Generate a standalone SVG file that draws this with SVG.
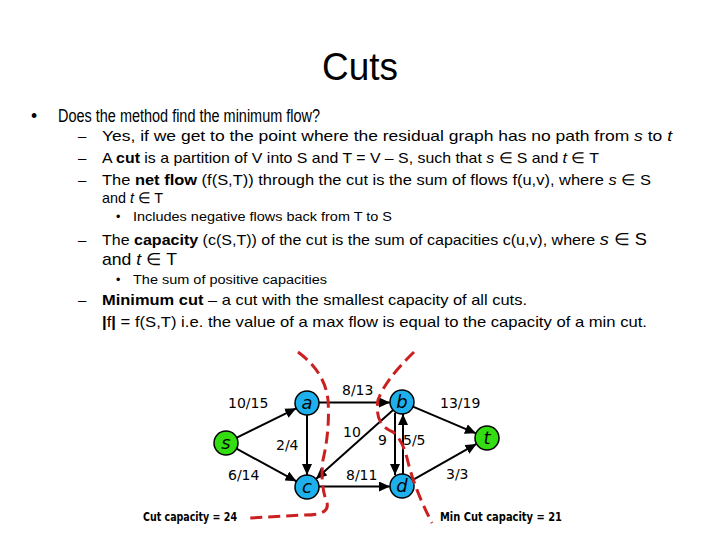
<svg xmlns="http://www.w3.org/2000/svg" width="720" height="540" viewBox="0 0 720 540">
<defs>
<style>
.t{font-family:"Liberation Sans",Arial,sans-serif;fill:#000}
.l1{font-size:17.5px}
.l2{font-size:15px}
.l3{font-size:12.5px}
.b{font-weight:bold}
.i{font-style:italic}
.lbl{font-family:"DejaVu Sans",Verdana,sans-serif;font-size:14px;fill:#000}
.nl{font-family:"DejaVu Sans",Verdana,sans-serif;font-size:18px;font-style:italic;text-anchor:middle;fill:#000}
.blue{fill:#1eb0ec;stroke:#000;stroke-width:1.5}
.green{fill:#33dd11;stroke:#000;stroke-width:1.5}
.e{stroke:#000;stroke-width:2;fill:none;marker-end:url(#arr)}
.cut{stroke:#cc2020;stroke-width:3;fill:none;stroke-dasharray:12 6}
.cap{font-family:"DejaVu Sans",Tahoma,sans-serif;font-size:11.5px;font-weight:bold;fill:#000}
</style>
<marker id="arr" markerUnits="userSpaceOnUse" markerWidth="12" markerHeight="10" refX="11" refY="5" orient="auto">
<path d="M0,0 L11,5 L0,10 Z" fill="#000"/>
</marker>
</defs>
<rect width="720" height="540" fill="#fff"/>

<text class="t" x="360" y="80" font-size="39" text-anchor="middle" textLength="76" lengthAdjust="spacingAndGlyphs">Cuts</text>

<text class="t l1" x="31" y="122">•</text>
<text class="t l1" x="58" y="122" textLength="262" lengthAdjust="spacingAndGlyphs">Does the method find the minimum flow?</text>

<text class="t l2" x="78" y="141">–</text>
<text class="t l2" x="102" y="141" textLength="570" lengthAdjust="spacingAndGlyphs">Yes, if we get to the point where the residual graph has no path from <tspan class="i">s</tspan> to <tspan class="i">t</tspan></text>
<text class="t l2" x="78" y="163">–</text>
<text class="t l2" x="102" y="163" textLength="497" lengthAdjust="spacingAndGlyphs">A <tspan class="b">cut</tspan> is a partition of V into S and T = V – S, such that <tspan class="i">s</tspan> ∈ S and <tspan class="i">t</tspan> ∈ T</text>
<text class="t l2" x="78" y="185">–</text>
<text class="t l2" x="102" y="185" textLength="549" lengthAdjust="spacingAndGlyphs">The <tspan class="b">net flow</tspan> (f(S,T)) through the cut is the sum of flows f(u,v), where  <tspan class="i">s</tspan> ∈ S</text>
<text class="t l2" x="102" y="203" textLength="61" lengthAdjust="spacingAndGlyphs">and <tspan class="i">t</tspan> ∈ T</text>
<text class="t l3" x="116" y="221">•</text>
<text class="t l3" x="133" y="221" textLength="259" lengthAdjust="spacingAndGlyphs">Includes negative flows back from T to S</text>

<text class="t l2" x="78" y="245">–</text>
<text class="t l2" x="102" y="245" textLength="545" lengthAdjust="spacingAndGlyphs">The <tspan class="b">capacity</tspan> (c(S,T)) of the cut is the sum of capacities c(u,v), where  <tspan class="i" font-size="17">s</tspan><tspan font-size="17"> ∈ S</tspan></text>
<text class="t" font-size="17" x="102" y="265" textLength="75" lengthAdjust="spacingAndGlyphs">and <tspan class="i">t</tspan> ∈ T</text>
<text class="t l3" x="116" y="284">•</text>
<text class="t l3" x="133" y="284" textLength="194" lengthAdjust="spacingAndGlyphs">The sum of positive capacities</text>

<text class="t l2" x="78" y="305">–</text>
<text class="t l2" x="102" y="305" textLength="425" lengthAdjust="spacingAndGlyphs"><tspan class="b">Minimum cut</tspan> – a cut with the smallest capacity of all cuts.</text>
<text class="t l2" x="102" y="327" textLength="545" lengthAdjust="spacingAndGlyphs"><tspan class="b">|</tspan>f<tspan class="b">|</tspan> = f(S,T)  i.e. the value of a max flow is equal to the capacity of a min cut.</text>

<g id="connectors">
<line class="e" x1="236.8" y1="437.7" x2="296.2" y2="408.3"/>
<line class="e" x1="236.5" y1="448.7" x2="296.5" y2="481.3"/>
<line class="e" x1="307" y1="415" x2="307" y2="475"/>
<line class="e" x1="319" y1="402.5" x2="390" y2="402.5"/>
<line class="e" x1="393.1" y1="410" x2="315.9" y2="479"/>
<line class="e" x1="319" y1="486.5" x2="390" y2="486.5"/>
<line class="e" x1="395" y1="413" x2="395" y2="475" stroke-width="2.6"/>
<line class="e" x1="403" y1="474" x2="403" y2="414"/>
<line class="e" x1="413" y1="406.7" x2="476" y2="433.3"/>
<line class="e" x1="412.5" y1="480.1" x2="476.5" y2="443.9"/>
</g>

<g id="edge-labels">
<text class="lbl" x="228" y="408">10/15</text>
<text class="lbl" x="228" y="480">6/14</text>
<text class="lbl" x="276" y="450">2/4</text>
<text class="lbl" x="342" y="395">8/13</text>
<text class="lbl" x="343" y="437">10</text>
<text class="lbl" x="378" y="445">9</text>
<text class="lbl" x="403" y="445">5/5</text>
<text class="lbl" x="346" y="480">8/11</text>
<text class="lbl" x="440" y="408">13/19</text>
<text class="lbl" x="446" y="479">3/3</text>
</g>

<g id="node-s"><circle class="green" cx="226" cy="443" r="12"/><text class="nl" x="226" y="449">s</text></g>
<g id="node-a"><circle class="blue" cx="307" cy="403" r="12"/><text class="nl" x="307" y="409">a</text></g>
<g id="node-c"><circle class="blue" cx="307" cy="487" r="12"/><text class="nl" x="307" y="493">c</text></g>
<g id="node-b"><circle class="blue" cx="402" cy="402" r="12"/><text class="nl" x="402" y="408">b</text></g>
<g id="node-d"><circle class="blue" cx="402" cy="486" r="12"/><text class="nl" x="402" y="492">d</text></g>
<g id="node-t"><circle class="green" cx="487" cy="438" r="12"/><text class="nl" x="487" y="444">t</text></g>

<g id="cuts">
<path class="cut" d="M298,352 Q325,372 328,400 Q330,430 323,460 Q320,485 327,503 Q330,515 305,515 L250,518"/>
<path class="cut" d="M414,352 Q385,380 378,400 Q374,425 393,432 Q403,440 408,462 Q415,490 432,523"/>
</g>

<text class="cap" x="143" y="521" textLength="94" lengthAdjust="spacingAndGlyphs">Cut capacity = 24</text>
<text class="cap" x="440" y="521" textLength="122" lengthAdjust="spacingAndGlyphs">Min Cut capacity = 21</text>
</svg>
